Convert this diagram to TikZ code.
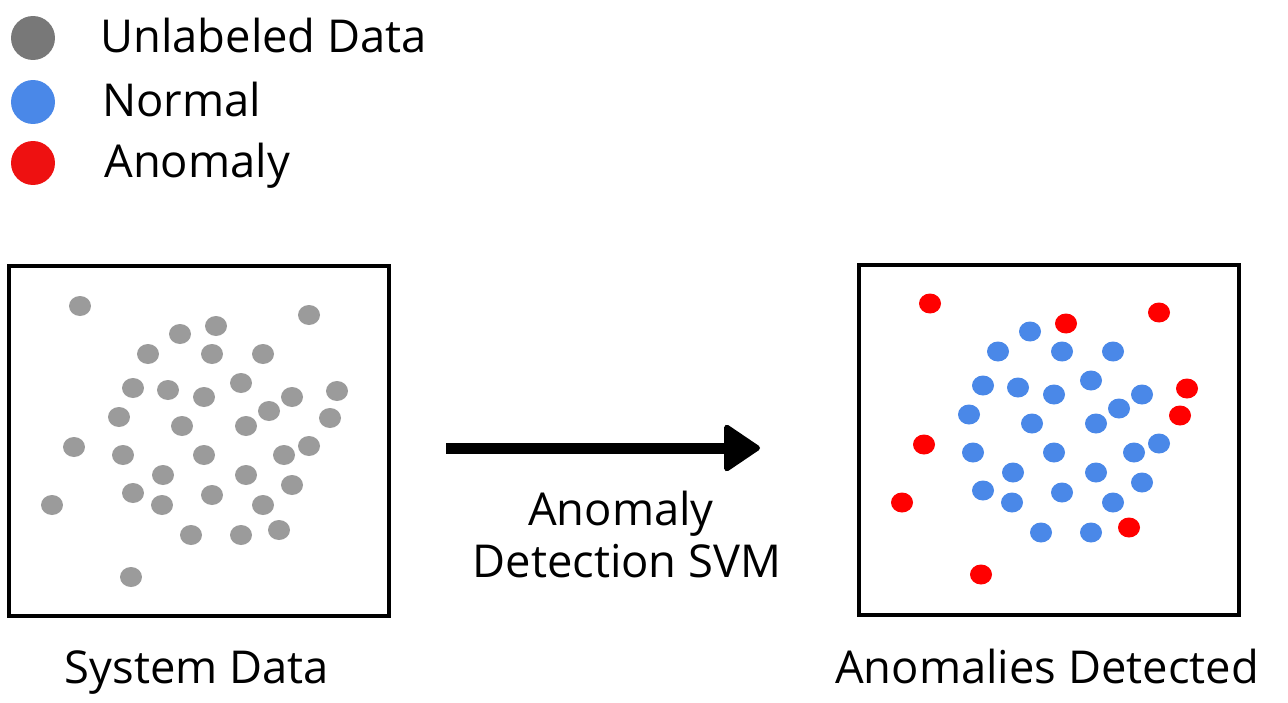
\documentclass[tikz,border=0pt]{standalone}
\usepackage{fontspec}
\setmainfont{Open Sans}
\usetikzlibrary{arrows.meta,shapes.geometric}

\definecolor{legendgray}{HTML}{787878}
\definecolor{datagray}{HTML}{9B9B9B}
\definecolor{normalblue}{HTML}{4A88E8}
\definecolor{legendred}{HTML}{EE1111}
\definecolor{anomred}{HTML}{FF0000}
\colorlet{ptn}{normalblue}
\colorlet{pta}{anomred}

\tikzset{
  dot/.style={ellipse,inner sep=0pt,minimum width=0.44cm,minimum height=0.40cm},
  legdot/.style={circle,inner sep=0pt,minimum size=0.88cm},
  databox/.style={draw,line width=0.08cm,minimum width=7.6cm,minimum height=7.0cm,inner sep=0pt},
  lbl/.style={inner sep=0pt,font=\fontsize{25.8}{31}\selectfont}
}

% points of the left box (pixels), n = normal, a = anomaly
\def\points{80/306/a, 309/315/a, 180/334/n, 216/326/a, 148/354/n, 212/354/n, 263/354/n,
  133/388/n, 168/390/n, 204/397/n, 241/383/n, 292/397/n, 337/391/a, 269/411/n,
  119/417/n, 182/426/n, 246/426/n, 330/418/a, 74/447/a, 123/455/n, 204/455/n,
  284/455/n, 309/446/n, 163/475/n, 246/475/n, 292/485/n, 133/493/n, 212/495/n,
  162/505/n, 263/505/n, 52/505/a, 191/535/n, 241/535/n, 279/530/a, 131/577/a}

\begin{document}
\begin{tikzpicture}[x=0.02cm,y=-0.02cm]
\useasboundingbox (0,0) rectangle (1288,703);

% legend
\node[legdot,fill=legendgray] (legU) at (33,38) {};
\node[legdot,fill=normalblue] (legN) at (33,102) {};
\node[legdot,fill=legendred] (legA) at (33,163) {};
\node[lbl,anchor=base west] (legUtxt) at (100,52) {Unlabeled Data};
\node[lbl,anchor=base west] (legNtxt) at (102,116) {Normal};
\node[lbl,anchor=base west] (legAtxt) at (104,177) {Anomaly};

% boxes
\node[databox] (sysbox) at (199,441) {};
\node[databox] (detbox) at (1049,440) {};
\node[lbl,anchor=base] (systxt) at (197,683) {System Data};
\node[lbl,anchor=base] (dettxt) at (1047,683) {Anomalies Detected};

\foreach \px/\py/\c [count=\i] in \points
  \node[dot,fill=datagray] (dL\i) at (\px,\py) {};

\begin{scope}[shift={(850,-2.5)}]
\foreach \px/\py/\c [count=\i] in \points
  \node[dot,fill=pt\c] (dR\i) at (\px,\py) {};
\end{scope}

% arrow
\coordinate (arrS) at (446,448);
\coordinate (arrE) at (760,448);
\draw[line width=0.22cm,-{Triangle[round,length=0.76cm,width=1.0cm,line width=3pt]}] (arrS) -- (arrE);
\node[lbl,anchor=base] (svmA) at (621,525) {Anomaly};
\node[lbl,anchor=base] (svmB) at (627,577) {Detection SVM};
\end{tikzpicture}
\end{document}
